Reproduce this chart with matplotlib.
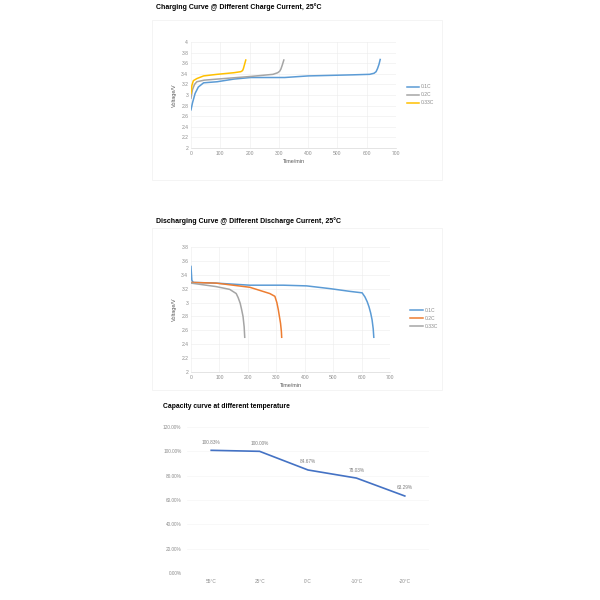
import matplotlib
matplotlib.use("Agg")
import matplotlib.pyplot as plt
from matplotlib.patches import Rectangle

plt.rcParams['font.family'] = ['Liberation Sans', 'DejaVu Sans']

# ---------- data ----------
# Charging curves (time/min, voltage/V)
chg_01c_t = [0, 5, 14, 25, 43, 89, 146, 204, 320, 400, 550, 610, 625, 632, 637, 642, 646]
chg_01c_v = [2.72, 2.85, 3.03, 3.15, 3.23, 3.25, 3.30, 3.33, 3.33, 3.36, 3.38, 3.39, 3.41, 3.44, 3.50, 3.58, 3.67]
chg_02c_t = [0, 5, 12, 20, 45, 89, 204, 280, 296, 303, 307, 312, 317]
chg_02c_v = [2.94, 3.10, 3.20, 3.25, 3.28, 3.30, 3.35, 3.39, 3.42, 3.45, 3.49, 3.57, 3.66]
chg_033c_t = [0, 3, 8, 20, 43, 89, 146, 170, 176, 179, 183, 187]
chg_033c_v = [3.03, 3.18, 3.27, 3.31, 3.36, 3.39, 3.42, 3.44, 3.46, 3.50, 3.58, 3.66]

# Discharging curves
dis_01c_t = [0, 1, 3, 8, 88, 207, 325, 407, 490, 561, 602, 612, 620, 626, 632, 637, 641, 643]
dis_01c_v = [3.52, 3.45, 3.32, 3.29, 3.28, 3.25, 3.25, 3.24, 3.20, 3.16, 3.14, 3.08, 3.01, 2.94, 2.85, 2.75, 2.62, 2.50]
dis_02c_t = [0, 88, 148, 207, 277, 295, 302, 307, 311, 315, 318, 319]
dis_02c_v = [3.29, 3.28, 3.25, 3.22, 3.13, 3.09, 3.00, 2.90, 2.80, 2.70, 2.58, 2.50]
dis_033c_t = [0, 88, 136, 159, 166, 173, 178, 183, 187, 189]
dis_033c_v = [3.28, 3.23, 3.19, 3.13, 3.07, 2.99, 2.90, 2.80, 2.65, 2.50]

# Capacity vs temperature
temp_labels = ['55°C', '25°C', '0°C', '-10°C', '-20°C']
capacity = [100.83, 100.00, 84.67, 78.03, 63.29]

time_ticks = [0, 100, 200, 300, 400, 500, 600, 700]

BLUE = '#5B9BD5'
GRAY = '#A5A5A5'
YELLOW = '#FFC000'
ORANGE = '#ED7D31'
LINE3 = '#4472C4'
TICKC = '#8c8c8c'
GRIDC = '#ececec'

W = H = 600.0
fig = plt.figure(figsize=(6, 6), dpi=100)
fig.patch.set_facecolor('white')


def px_axes(x0, y0, x1, y1):
    return fig.add_axes([x0 / W, 1 - y1 / H, (x1 - x0) / W, (y1 - y0) / H])


def frame(x0, y0, x1, y1):
    fig.patches.append(Rectangle((x0 / W, 1 - y1 / H), (x1 - x0) / W, (y1 - y0) / H,
                                 transform=fig.transFigure, fill=False,
                                 edgecolor='#f2f2f2', linewidth=0.6))


def style_voltage(ax):
    for s in ax.spines.values():
        s.set_visible(False)
    ax.spines['bottom'].set_visible(True)
    ax.spines['bottom'].set_color('#d9d9d9')
    ax.spines['bottom'].set_linewidth(0.5)
    ax.grid(True, color=GRIDC, linewidth=0.4)
    ax.set_axisbelow(True)
    ax.tick_params(axis='both', length=0, labelsize=3.6, labelcolor=TICKC, pad=2)
    ax.set_xlim(0, 700)
    ax.set_xticks(time_ticks)
    ax.set_ylim(2, 4)


# ---------- Chart 1: charging ----------
frame(152, 20, 442, 180)
fig.text(156 / W, 1 - 7 / H, 'Charging Curve @ Different Charge Current, 25°C',
         fontsize=5.0, fontweight='bold', va='center', ha='left')
ax1 = px_axes(191, 42, 396, 148)
style_voltage(ax1)
ax1.set_yticks([2, 2.2, 2.4, 2.6, 2.8, 3, 3.2, 3.4, 3.6, 3.8, 4])
ax1.set_yticklabels(['2', '2.2', '2.4', '2.6', '2.8', '3', '3.2', '3.4', '3.6', '3.8', '4'])
ax1.plot(chg_01c_t, chg_01c_v, color=BLUE, lw=1.1, label='0.1C')
ax1.plot(chg_02c_t, chg_02c_v, color=GRAY, lw=1.1, label='0.2C')
ax1.plot(chg_033c_t, chg_033c_v, color=YELLOW, lw=1.1, label='0.33C')
ax1.set_xlabel('Time/min', fontsize=4, color='#595959', labelpad=2)
ax1.set_ylabel('Voltage/V', fontsize=4, color='#595959', labelpad=3)
ax1.legend(loc='center left', bbox_to_anchor=(1.03, 0.5), frameon=False,
           fontsize=3.6, labelcolor=TICKC, handlelength=2.5, handletextpad=0.4,
           labelspacing=0.6)

# ---------- Chart 2: discharging ----------
frame(152, 228, 442, 390)
fig.text(156 / W, 1 - 221 / H, 'Discharging Curve @ Different Discharge Current, 25°C',
         fontsize=5.0, fontweight='bold', va='center', ha='left')
ax2 = px_axes(191, 247, 390, 372)
style_voltage(ax2)
ax2.set_ylim(2, 3.8)
ax2.set_yticks([2, 2.2, 2.4, 2.6, 2.8, 3, 3.2, 3.4, 3.6, 3.8])
ax2.set_yticklabels(['2', '2.2', '2.4', '2.6', '2.8', '3', '3.2', '3.4', '3.6', '3.8'])
ax2.plot(dis_01c_t, dis_01c_v, color=BLUE, lw=1.1, label='0.1C')
ax2.plot(dis_02c_t, dis_02c_v, color=ORANGE, lw=1.1, label='0.2C')
ax2.plot(dis_033c_t, dis_033c_v, color=GRAY, lw=1.1, label='0.33C')
ax2.set_xlabel('Time/min', fontsize=4, color='#595959', labelpad=2)
ax2.set_ylabel('Voltage/V', fontsize=4, color='#595959', labelpad=3)
ax2.legend(loc='center left', bbox_to_anchor=(1.08, 0.43), frameon=False,
           fontsize=3.6, labelcolor=TICKC, handlelength=2.5, handletextpad=0.4,
           labelspacing=0.6)

# ---------- Chart 3: capacity vs temperature ----------
fig.text(163 / W, 1 - 406 / H, 'Capacity curve at different temperature',
         fontsize=4.9, fontweight='bold', va='center', ha='left')
ax3 = px_axes(187, 427, 429, 573)
for s in ax3.spines.values():
    s.set_visible(False)
xs = list(range(len(temp_labels)))
ax3.plot(xs, capacity, color=LINE3, lw=1.2)
ax3.set_xlim(-0.5, len(temp_labels) - 0.5)
ax3.set_ylim(0, 120)
ax3.set_yticks([0, 20, 40, 60, 80, 100, 120])
ax3.set_yticklabels(['%.2f%%' % v for v in [0, 20, 40, 60, 80, 100, 120]])
ax3.set_xticks(xs)
ax3.set_xticklabels(temp_labels)
ax3.grid(True, axis='y', color='#f3f3f3', linewidth=0.4)
ax3.set_axisbelow(True)
ax3.tick_params(axis='both', length=0, labelsize=3.4, labelcolor=TICKC)
ax3.tick_params(axis='x', pad=4)
ax3.tick_params(axis='y', pad=4)
for x, v in zip(xs, capacity):
    ax3.annotate('%.2f%%' % v, (x, v), xytext=(0, 4), textcoords='offset points',
                 ha='center', va='bottom', fontsize=3.4, color='#7f7f7f')

fig.savefig('out.png', dpi=100, facecolor='white')
